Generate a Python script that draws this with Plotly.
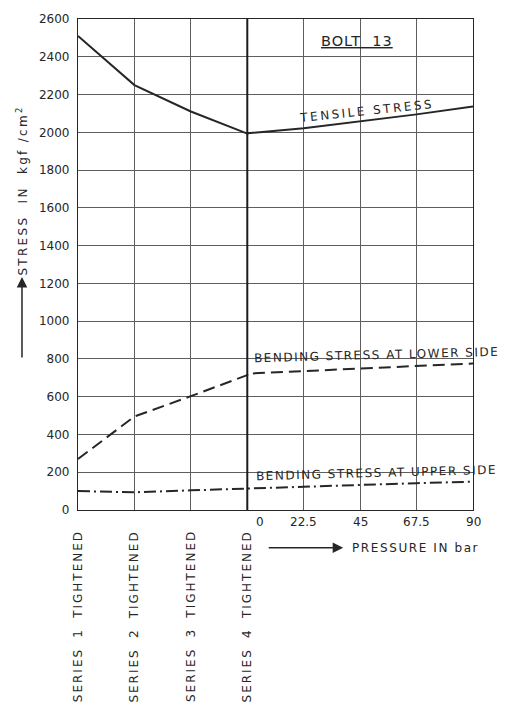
import plotly.graph_objects as go

# ---- data -------------------------------------------------------------
series_labels = ["SERIES\u2009 1\u2009 TIGHTENED", "SERIES\u2009 2\u2009 TIGHTENED",
                 "SERIES\u2009 3\u2009 TIGHTENED", "SERIES\u2009 4\u2009 TIGHTENED"]
pressure_bar = [0, 22.5, 45, 67.5, 90]
pressure_labels = ["0", "22.5", "45", "67.5", "90"]

# stresses (kgf/cm2) during tightening of the bolt series
tensile_tightening = [2510, 2250, 2110, 1993]
lower_tightening = [270, 495, 603, 714]
upper_tightening = [100, 94, 104, 114]

# stresses (kgf/cm2) under internal pressure
tensile_pressure = [1995, 2022, 2058, 2095, 2137]
lower_pressure = [722, 736, 750, 763, 776]
upper_pressure = [114, 124, 133, 142, 150]

y_ticks = list(range(0, 2601, 200))

# ---- x scale: tightening steps 0..3, then pressure 0..90 bar on 3..7 ---
x_series = list(range(len(series_labels)))
x_press = [x_series[-1] + p / 22.5 for p in pressure_bar]
x_all = x_series + x_press

INK = "#262626"
FONT = "DejaVu Sans"


def lettered(text, spacing):
    return f'<span style="letter-spacing:{spacing}px">{text}</span>'


fig = go.Figure()
fig.add_trace(go.Scatter(x=x_all, y=tensile_tightening + tensile_pressure,
                         mode="lines", line=dict(color=INK, width=2)))
fig.add_trace(go.Scatter(x=x_all, y=lower_tightening + lower_pressure,
                         mode="lines",
                         line=dict(color=INK, width=2, dash="12px,6px")))
fig.add_trace(go.Scatter(x=x_all, y=upper_tightening + upper_pressure,
                         mode="lines",
                         line=dict(color=INK, width=2,
                                   dash="12px,4px,2px,4px")))

# heavy separator between tightening steps and pressure scale
fig.add_shape(type="line", xref="x", yref="y", x0=x_press[0], x1=x_press[0],
              y0=0, y1=2600, line=dict(color="#1c1c1c", width=2))
# small leader to the "0" of the pressure scale
fig.add_shape(type="line", xref="x", yref="y", xsizemode="pixel",
              xanchor=x_press[0], x0=0, x1=7, ysizemode="pixel", yanchor=0,
              y0=0, y1=-8, line=dict(color=INK, width=1))

ann = []
# curve labels
ann.append(dict(x=5.12, y=2115, xref="x", yref="y",
                text=lettered("TENSILE STRESS", 2.5), textangle=-6,
                showarrow=False))
ann.append(dict(x=5.29, y=819, xref="x", yref="y",
                text=lettered("BENDING STRESS AT LOWER SIDE", 1.5),
                textangle=-1.5, showarrow=False))
ann.append(dict(x=5.29, y=194, xref="x", yref="y",
                text=lettered("BENDING STRESS AT UPPER SIDE", 1.5),
                textangle=-1.5, showarrow=False))
# title
ann.append(dict(x=4.94, y=2485, xref="x", yref="y",
                text="<u>" + lettered("BOLT\u00a0\u00a013", 1) + "</u>",
                font=dict(size=14.5), showarrow=False))
# tightening step labels
for xs, lab in zip(x_series, series_labels):
    ann.append(dict(x=xs, y=-0.037, xref="x", yref="paper",
                    text=lettered(lab, 2.0), textangle=-90,
                    xanchor="center", yanchor="top", showarrow=False))
# pressure tick labels
for xp, lab in zip(x_press, pressure_labels):
    ann.append(dict(x=xp, y=-0.0242, xref="x", yref="paper", text=lab,
                    xanchor="center", yanchor="middle",
                    xshift=13 if lab == "0" else 0, showarrow=False))
# pressure axis caption with arrow
ann.append(dict(x=4.82, y=-0.0768, xref="x", yref="paper",
                text=lettered("PRESSURE IN bar", 1.6), xanchor="left",
                yanchor="middle", showarrow=False))
ann.append(dict(x=4.70, y=-0.0768, xref="x", yref="paper", text="",
                showarrow=True, ax=-76, ay=0, arrowhead=2, arrowsize=1.4,
                arrowwidth=1.5, arrowcolor=INK, standoff=0))
# stress axis caption with arrow
ann.append(dict(x=-0.1418, y=0.6505, xref="paper", yref="paper",
                text=lettered("STRESS\u00a0\u00a0IN\u00a0\u00a0kgf\u00a0/cm<sup>2</sup>", 2.3),
                textangle=-90, xanchor="center", yanchor="middle",
                showarrow=False))
ann.append(dict(x=-0.1418, y=0.4747, xref="paper", yref="paper", text="",
                showarrow=True, ax=0, ay=82, arrowhead=2, arrowsize=1.4,
                arrowwidth=1.5, arrowcolor=INK, standoff=0))

fig.update_layout(
    width=506, height=705,
    margin=dict(l=78, r=33, t=15, b=195),
    paper_bgcolor="white", plot_bgcolor="white",
    showlegend=False,
    font=dict(family=FONT, size=12, color=INK),
    annotations=ann,
)
fig.update_xaxes(range=[0, 7], tickvals=list(range(8)), showticklabels=False,
                 showgrid=True, gridcolor="#5e5e5e", gridwidth=1,
                 showline=True, linecolor=INK, linewidth=1.2, mirror=True,
                 zeroline=False, ticks="")
fig.update_yaxes(range=[0, 2600], tickvals=y_ticks, showgrid=True,
                 gridcolor="#5e5e5e", gridwidth=1, showline=True,
                 linecolor=INK, linewidth=1.2, mirror=True, zeroline=False,
                 ticks="", ticklabelstandoff=5,
                 tickfont=dict(family=FONT, size=12, color=INK))

fig.write_html("out.html")
